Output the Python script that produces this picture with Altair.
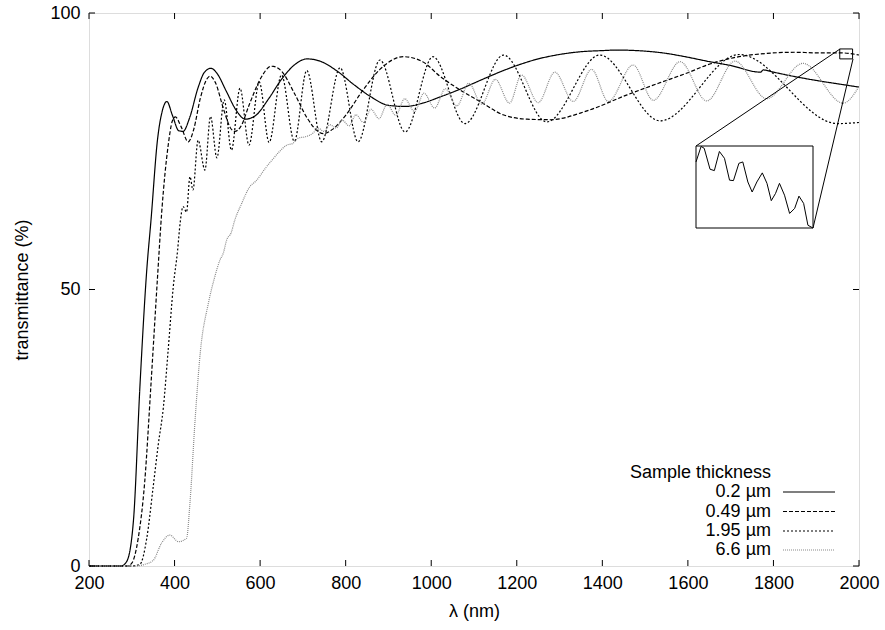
import altair as alt
import pandas as pd

# ---------------- data ----------------
names = ["0.2 µm", "0.49 µm", "1.95 µm", "6.6 µm"]

s1_x = [200, 275, 288, 304, 319, 335, 345, 360, 372, 382, 395, 410, 420, 435, 455, 470, 485, 500, 520, 545, 565, 590, 620, 650, 680, 710, 740, 780, 820, 860, 900, 940, 980, 1020, 1070, 1114, 1150, 1200, 1250, 1300, 1350, 1400, 1433, 1480, 1540, 1600, 1644, 1700, 1770, 1776, 1800, 1850, 1900, 1950, 2000]
s1_y = [0, 0, 0.8, 8.3, 32.4, 53.5, 62.6, 77, 82.5, 84, 81.5, 78.7, 78.6, 81, 86.5, 89.3, 90, 89, 86, 82.3, 80.8, 81.5, 84.5, 88, 90.6, 91.7, 91.3, 89.5, 87, 84.8, 83.3, 83.1, 83.7, 84.8, 86.3, 87.8, 89, 90.5, 91.7, 92.5, 93, 93.2, 93.3, 93.2, 92.8, 92, 91.3, 90.5, 89.3, 89.7, 89.3, 88.5, 87.8, 87.2, 86.6]

s2_x = [200, 290, 300, 315, 330, 345, 360, 370, 385, 395, 402, 415, 432, 445, 460, 475, 483, 495, 515, 530, 541, 555, 575, 600, 627, 650, 680, 710, 735, 748, 770, 800, 840, 880, 935, 980, 1020, 1067, 1114, 1168, 1224, 1278, 1364, 1458, 1535, 1600, 1645, 1700, 1785, 1850, 1900, 1956, 2000]
s2_y = [0, 0, 0.5, 5, 15, 33, 52, 64, 76, 80.5, 81.2, 79.5, 76.7, 79, 84.5, 88, 88.6, 87.5, 82.5, 79.3, 78.6, 79.5, 83.5, 88, 90.4, 89.5, 85.5, 81, 78.6, 78.2, 79, 81.5, 86, 89.8, 92.1, 91.2, 88.6, 86.1, 84, 81.6, 80.8, 80.7, 82.3, 85.2, 87.4, 89.2, 90.6, 91.8, 92.7, 92.9, 92.8, 92.8, 92.4]

s3_x = [200, 300, 319, 335, 350, 362, 374, 385, 397, 407, 413, 420, 428, 436, 443, 455, 471, 484, 499, 516, 533, 553, 574, 598, 621, 650, 680, 709, 744, 787, 829, 880, 939, 1004, 1079, 1169, 1270, 1394, 1535, 1720, 1950, 2000]
s3_y = [0, 0, 0.3, 5, 14.3, 22, 28.8, 39, 50.5, 57, 62, 65, 64, 70.4, 68, 77, 71.6, 81.3, 73.8, 84.3, 75.2, 86.4, 76.1, 87.5, 76.6, 88.8, 76.8, 89.6, 76.7, 90.1, 76.7, 91.5, 78.5, 92.1, 80.0, 92.4, 80.3, 92.4, 80.5, 92.5, 80.0, 80.2]

s4_x = [200, 310, 330, 350, 370, 389, 409, 428, 436, 448, 460, 479, 493, 506, 514, 522, 532, 541, 556, 576, 590, 615, 630, 646, 662, 676, 690, 705, 724, 735, 749, 763, 778, 792, 808, 824, 842, 859, 878, 897, 917, 938, 961, 983, 1008, 1033, 1060, 1088, 1118, 1150, 1183, 1211, 1250, 1289, 1332, 1375, 1414, 1472, 1519, 1582, 1644, 1710, 1784, 1869, 1963, 2000]
s4_y = [0, 0, 0.3, 1, 4.2, 5.6, 4.4, 5.0, 11.4, 26.4, 38.5, 47.5, 52.0, 55.3, 56.6, 59, 60.2, 62.6, 65.4, 68.6, 69.6, 72.2, 73.6, 75.0, 76.1, 76.4, 77.4, 77.6, 78.3, 79.2, 78.6, 79.8, 79.2, 80.6, 79.6, 81.6, 80.2, 82.6, 80.9, 83.5, 81.5, 84.5, 82.2, 85.5, 82.8, 86.3, 83.2, 87.3, 83.5, 88.0, 83.7, 88.8, 83.8, 89.3, 84.0, 89.8, 84.0, 90.6, 84.2, 91.2, 84.1, 91.3, 84.5, 90.9, 83.7, 86.7]

# zoomed detail (0.49 µm curve inside the small box)
inset_x = [1955, 1956.3, 1957.1, 1958.6, 1959.7, 1961.0, 1962.3, 1963.6, 1964.6, 1966.0, 1967.0, 1968.3, 1969.4, 1970.6, 1972.0, 1973.2, 1974.3, 1975.4, 1976.4, 1977.7, 1979.0, 1980.3, 1981.4, 1982.6, 1983.7, 1985.0]
inset_y = [93.15, 93.49, 93.45, 92.99, 92.96, 93.38, 93.23, 92.75, 92.74, 93.12, 93.15, 92.71, 92.49, 92.71, 92.91, 92.68, 92.30, 92.46, 92.68, 92.42, 92.02, 92.13, 92.40, 92.24, 91.76, 91.70]
box_x = [1955, 1985]
box_y = [91.7, 93.5]

x_ticks = [200, 400, 600, 800, 1000, 1200, 1400, 1600, 1800, 2000]
y_ticks = [0, 50, 100]

# ---------------- build ----------------
W, H = 770, 553
FONT = "Liberation Sans"
FS = 18

rows = []
for name, xs, ys in zip(names, [s1_x, s2_x, s3_x, s4_x], [s1_y, s2_y, s3_y, s4_y]):
    for i, (a, b) in enumerate(zip(xs, ys)):
        rows.append({"series": name, "lam": a, "T": b, "i": i})
df = pd.DataFrame(rows)

xs_main = alt.Scale(domain=[200, 2000], nice=False, zero=False)
ys_main = alt.Scale(domain=[0, 100], nice=False, zero=False)

col_scale = alt.Scale(domain=names, range=["#000000", "#000000", "#000000", "#8a8a8a"])
dash_scale = alt.Scale(domain=names, range=[[1, 0], [4, 2], [2, 2], [1, 1]])

lines = alt.Chart(df).mark_line(interpolate="monotone", strokeWidth=1.2).encode(
    x=alt.X("lam:Q", scale=xs_main,
            axis=alt.Axis(values=x_ticks, format="d", ticks=False, tickSize=0, grid=False, domain=False,
                          labelFlush=False, labelOverlap=False,
                          labelPadding=8, labelFont=FONT, labelFontSize=FS, labelColor="#000",
                          title="λ (nm)", titleFont=FONT, titleFontSize=FS, titleFontWeight="normal",
                          titleColor="#000", titlePadding=10)),
    y=alt.Y("T:Q", scale=ys_main,
            axis=alt.Axis(values=y_ticks, format="d", ticks=False, tickSize=0, grid=False, domain=False,
                          labelFlush=False, labelOverlap=False,
                          labelPadding=9, labelFont=FONT, labelFontSize=FS, labelColor="#000",
                          title="transmittance (%)", titleFont=FONT, titleFontSize=FS,
                          titleFontWeight="normal", titleColor="#000", titlePadding=18)),
    color=alt.Color("series:N", scale=col_scale, legend=None),
    strokeDash=alt.StrokeDash("series:N", scale=dash_scale, legend=None),
    order="i:Q",
)

xt = pd.DataFrame({"v": x_ticks})
yt = pd.DataFrame({"v": y_ticks})
TL = 6
xtick_b = alt.Chart(xt).mark_rule(color="#000").encode(
    x=alt.X("v:Q", scale=xs_main), y=alt.value(H), y2=alt.value(H - TL))
xtick_t = alt.Chart(xt).mark_rule(color="#000").encode(
    x=alt.X("v:Q", scale=xs_main), y=alt.value(0), y2=alt.value(TL))
ytick_l = alt.Chart(yt).mark_rule(color="#000").encode(
    y=alt.Y("v:Q", scale=ys_main), x=alt.value(0), x2=alt.value(TL))
ytick_r = alt.Chart(yt).mark_rule(color="#000").encode(
    y=alt.Y("v:Q", scale=ys_main), x=alt.value(W), x2=alt.value(W - TL))

boxdf = pd.DataFrame({"x1": [box_x[0]], "x2": [box_x[1]], "y1": [box_y[0]], "y2": [box_y[1]]})
small_box = alt.Chart(boxdf).mark_rect(fillOpacity=0, stroke="#000", strokeWidth=1).encode(
    x=alt.X("x1:Q", scale=xs_main), x2="x2:Q", y=alt.Y("y1:Q", scale=ys_main), y2="y2:Q")

one = pd.DataFrame({"a": [0]})
IX0, IX1, IY0, IY1 = 607, 724, 133, 215
conn1 = alt.Chart(one).mark_rule(color="#000", strokeWidth=1).encode(
    x=alt.value(IX0), y=alt.value(IY0), x2=alt.value(751), y2=alt.value(36))
conn2 = alt.Chart(one).mark_rule(color="#000", strokeWidth=1).encode(
    x=alt.value(IX1), y=alt.value(IY1), x2=alt.value(764), y2=alt.value(46))
inset_frame = alt.Chart(one).mark_rect(fill="white", stroke="#000", strokeWidth=1).encode(
    x=alt.value(IX0), x2=alt.value(IX1), y=alt.value(IY0), y2=alt.value(IY1))

# legend (labels on the left, line samples on the right)
leg_layers = [
    alt.Chart(one).mark_text(text="Sample thickness", align="right", baseline="middle",
                             font=FONT, fontSize=FS, color="#000").encode(
        x=alt.value(682), y=alt.value(460))
]
leg_y = [479, 498.5, 518, 537]
for k, name in enumerate(names):
    ld = pd.DataFrame({"series": [name]})
    leg_layers.append(alt.Chart(ld).mark_text(align="right", baseline="middle", font=FONT,
                                              fontSize=FS, color="#000").encode(
        text="series:N", x=alt.value(682), y=alt.value(leg_y[k])))
    leg_layers.append(alt.Chart(ld).mark_rule(strokeWidth=1.2).encode(
        x=alt.value(694), x2=alt.value(746), y=alt.value(leg_y[k]),
        color=alt.Color("series:N", scale=col_scale, legend=None),
        strokeDash=alt.StrokeDash("series:N", scale=dash_scale, legend=None)))

main = alt.layer(lines, xtick_b, xtick_t, ytick_l, ytick_r, small_box, conn1, conn2,
                 inset_frame, *leg_layers)

idf = pd.DataFrame({"lam": inset_x, "T": inset_y})
inset_line = alt.Chart(idf).mark_line(color="#000", strokeWidth=1).encode(
    x=alt.X("lam:Q", scale=alt.Scale(domain=box_x, range=[IX0, IX1], nice=False, zero=False), axis=None),
    y=alt.Y("T:Q", scale=alt.Scale(domain=box_y, range=[IY1, IY0], nice=False, zero=False), axis=None),
)

chart = alt.layer(main, inset_line).resolve_scale(
    x="independent", y="independent", color="independent", strokeDash="independent"
).properties(
    width=W, height=H,
    autosize=alt.AutoSizeParams(type="none"),
    padding={"left": 89, "top": 13, "right": 26, "bottom": 64},
).configure_view(stroke="#000", strokeWidth=1.2).configure(background="white")

chart.save("out.html", embed_options={"renderer": "svg", "actions": False})
